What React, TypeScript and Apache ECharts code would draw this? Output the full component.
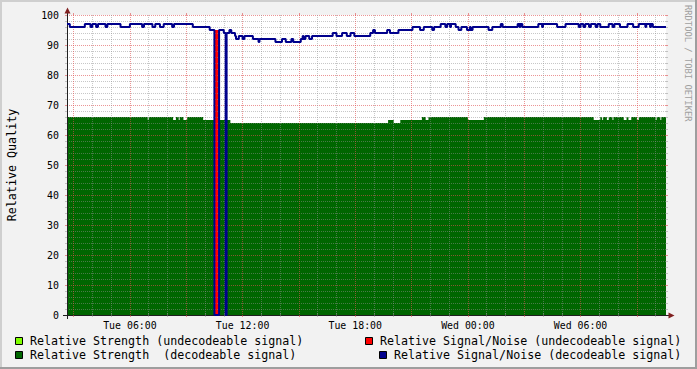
import React, { useEffect, useRef } from "react";
import * as echarts from "echarts";

// Time axis: categories every 3 minutes from Tue 02:39 to Wed 10:33 (minutes since Tue 00:00)
const START_MIN = 159;
const END_MIN = 2073;
const STEP_MIN = 3;
const DAY_NAMES = ["Tue", "Wed"];

// Change points: [hours since Tue 00:00, value] — value holds until the next change point
const snrDecodeable: [number, number][] = [
  [2.65, 97], [2.76, 96], [3.56, 97], [3.87, 96], [3.98, 97], [4.19, 96], [4.3, 97], [4.67, 96], [4.78, 97],
  [5.47, 96], [6.0, 97], [6.64, 96], [6.75, 97], [7.18, 96], [7.34, 97], [7.6, 96], [7.76, 97], [8.24, 96],
  [8.34, 97], [9.31, 96], [10.21, 95], [10.49, 0], [10.75, 95], [10.96, 94], [11.1, 0], [11.15, 94], [11.3, 95],
  [11.4, 94], [11.6, 93], [11.65, 92], [11.76, 93], [11.97, 92], [12.07, 93], [12.55, 92], [12.82, 91], [12.88, 92],
  [13.73, 91], [14.1, 92], [14.26, 91], [14.58, 92], [14.68, 91], [15.06, 92], [15.16, 93], [15.22, 92], [15.32, 93],
  [15.54, 92], [15.7, 93], [16.76, 94], [16.97, 93], [17.29, 94], [17.51, 93], [17.72, 94], [17.93, 93], [18.78, 94],
  [18.94, 95], [19.05, 94], [19.69, 95], [19.85, 94], [20.28, 95], [21.02, 96], [21.45, 95], [21.61, 96], [22.09, 95],
  [22.19, 96], [22.51, 97], [22.78, 96], [22.88, 97], [23.04, 96], [23.1, 97], [23.31, 96], [23.47, 95], [23.63, 96],
  [23.95, 95], [24.06, 96], [24.12, 95], [24.22, 96], [25.07, 95], [25.28, 96], [25.71, 97], [25.81, 96], [26.61, 97],
  [26.72, 96], [26.77, 97], [26.88, 96], [27.73, 97], [27.94, 96], [28.0, 97], [28.74, 96], [29.17, 97], [29.86, 96],
  [29.97, 97], [30.13, 96], [30.23, 97], [30.45, 96], [30.55, 97], [30.77, 96], [30.9, 97], [31.03, 96], [31.46, 97],
  [31.67, 96], [31.78, 97], [32.1, 96], [32.47, 97], [32.79, 96], [33.06, 97], [33.43, 96], [33.48, 97], [33.69, 96],
  [33.74, 97], [33.85, 96],
];

const snrUndecodeable: [number, number][] = [
  [2.65, 0], [10.49, 95], [10.75, 0], [11.1, 94], [11.15, 0],
];

const strengthDecodeable: [number, number][] = [
  [2.65, 66], [6.92, 65], [6.97, 66], [8.29, 65], [8.44, 66], [8.56, 65], [8.62, 66], [8.83, 65], [9.04, 66],
  [9.89, 65], [10.49, 0], [10.75, 65], [11.1, 0], [11.15, 65], [11.33, 64], [19.74, 65], [20.01, 64], [20.38, 65],
  [21.55, 66], [21.71, 65], [21.87, 66], [24.0, 65], [24.85, 66], [30.66, 65], [31.03, 66], [31.14, 65], [31.19, 66],
  [31.4, 65], [31.46, 66], [31.67, 65], [31.72, 66], [32.26, 65], [32.42, 66], [32.52, 65], [32.68, 66], [33.0, 65],
  [33.06, 66], [33.96, 65], [34.01, 66], [34.23, 65], [34.28, 66],
];

const strengthUndecodeable: [number, number][] = [
  [2.65, 0], [10.49, 65], [10.75, 0], [11.1, 65], [11.15, 0],
];

const SERIES_NAMES = [
  "Relative Strength (undecodeable signal)",
  "Relative Strength  (decodeable signal)",
  "Relative Signal/Noise (undecodeable signal)",
  "Relative Signal/Noise (decodeable signal)",
];
const SERIES_COLORS = ["#80FF00", "#006600", "#FF0000", "#00008C"];

const Y_TITLE = "Relative Quality";
const WATERMARK = "RRDTOOL / TOBI OETIKER";

const MONO = '"DejaVu Sans Mono", "Liberation Mono", monospace';
const GRID_COLOR = "rgba(143,143,143,0.5)";
const MGRID_COLOR = "rgba(222,79,79,0.6)";
const AXIS_COLOR = "#1F1F1F";
const ARROW_COLOR = "#802020";

const minutes: number[] = [];
const categories: string[] = [];
for (let m = START_MIN; m <= END_MIN; m += STEP_MIN) {
  minutes.push(m);
  const day = DAY_NAMES[Math.floor(m / 1440)];
  const md = m % 1440;
  const hh = String(Math.floor(md / 60)).padStart(2, "0");
  const mm = String(md % 60).padStart(2, "0");
  categories.push(`${day} ${hh}:${mm}`);
}

function stepValues(points: [number, number][]): number[] {
  return minutes.map((m) => {
    const h = m / 60;
    let v = points[0][1];
    for (const [ph, pv] of points) {
      if (ph <= h + 1e-6) v = pv;
      else break;
    }
    return v;
  });
}

export default function App() {
  const ref = useRef<HTMLDivElement>(null);
  useEffect(() => {
    if (!ref.current) return;
    const chart = echarts.init(ref.current, undefined, { renderer: "svg" });
    const isMajor = (i: number) => minutes[i] % 180 === 0;
    const isMinor = (i: number) => minutes[i] % 60 === 0 && minutes[i] % 180 !== 0;
    const isLabel = (i: number) => minutes[i] % 360 === 0;

    const areaSeries = (idx: number, pts: [number, number][]) => ({
      name: SERIES_NAMES[idx],
      type: "line",
      step: "end",
      data: stepValues(pts),
      showSymbol: false,
      symbol: "none",
      z: 1,
      lineStyle: { width: 0, opacity: 0 },
      areaStyle: { color: SERIES_COLORS[idx], opacity: 1 },
      itemStyle: { color: SERIES_COLORS[idx] },
      emphasis: { disabled: true },
    });

    const legendItems = [
      { sx: 15, y: 341, tx: 30, idx: 0 },
      { sx: 15, y: 355, tx: 30, idx: 1 },
      { sx: 365, y: 341, tx: 380, idx: 2 },
      { sx: 379, y: 355, tx: 394, idx: 3 },
    ];

    const graphic: any[] = [
      { type: "rect", shape: { x: 0, y: 0, width: 697, height: 2 }, style: { fill: "#CFCFCF" }, silent: true },
      { type: "rect", shape: { x: 0, y: 0, width: 2, height: 369 }, style: { fill: "#CFCFCF" }, silent: true },
      { type: "rect", shape: { x: 0, y: 367, width: 697, height: 2 }, style: { fill: "#9E9E9E" }, silent: true },
      { type: "rect", shape: { x: 695, y: 0, width: 2, height: 369 }, style: { fill: "#9E9E9E" }, silent: true },
      // axis extensions and arrows
      { type: "line", shape: { x1: 67.5, y1: 10, x2: 67.5, y2: 15 }, style: { stroke: AXIS_COLOR, lineWidth: 1 }, z: 10 },
      { type: "line", shape: { x1: 67.5, y1: 315, x2: 67.5, y2: 319 }, style: { stroke: AXIS_COLOR, lineWidth: 1 }, z: 10 },
      { type: "line", shape: { x1: 63, y1: 315.5, x2: 67, y2: 315.5 }, style: { stroke: AXIS_COLOR, lineWidth: 1 }, z: 10 },
      { type: "line", shape: { x1: 666, y1: 315.5, x2: 669, y2: 315.5 }, style: { stroke: AXIS_COLOR, lineWidth: 1 }, z: 10 },
      { type: "polygon", shape: { points: [[64.5, 13.5], [70.5, 13.5], [67.5, 7.5]] }, style: { fill: ARROW_COLOR }, z: 10 },
      { type: "polygon", shape: { points: [[668.5, 312.5], [668.5, 318.5], [674.5, 315.5]] }, style: { fill: ARROW_COLOR }, z: 10 },
      {
        type: "text", x: 12, y: 165, rotation: Math.PI / 2,
        style: { text: Y_TITLE, font: `11.7px ${MONO}`, fill: "#000", align: "center", verticalAlign: "middle" },
      },
      {
        type: "text", x: 688, y: 5, rotation: -Math.PI / 2,
        style: { text: WATERMARK, font: `8.8px ${MONO}`, fill: "#A0A0A0", align: "left", verticalAlign: "middle" },
      },
    ];
    legendItems.forEach((l) => {
      graphic.push({
        type: "rect",
        shape: { x: l.sx + 0.5, y: l.y - 3.5, width: 7, height: 7 },
        style: { fill: SERIES_COLORS[l.idx], stroke: "#000", lineWidth: 1 },
      });
      graphic.push({
        type: "text", x: l.tx, y: l.y,
        style: { text: SERIES_NAMES[l.idx], font: `11.65px ${MONO}`, fill: "#000", align: "left", verticalAlign: "middle" },
      });
    });

    const catAxisBase = {
      type: "category",
      data: categories,
      boundaryGap: false,
      z: 2,
    };

    chart.setOption({
      animation: false,
      backgroundColor: "#F2F2F2",
      grid: { left: 67, top: 15, width: 599, height: 300, containLabel: false, show: true, backgroundColor: "#FFFFFF", borderWidth: 0 },
      xAxis: [
        {
          ...catAxisBase,
          position: "bottom",
          axisLine: { show: true, lineStyle: { color: AXIS_COLOR, width: 1 } },
          axisTick: { show: true, interval: isMajor, length: 2, lineStyle: { color: MGRID_COLOR } },
          axisLabel: { show: true, interval: isLabel, margin: 5, fontFamily: MONO, fontSize: 9.9, color: "#000" },
          splitLine: { show: true, interval: isMajor, lineStyle: { color: MGRID_COLOR, type: [1, 1], width: 1 } },
        },
        {
          ...catAxisBase,
          position: "top",
          axisLine: { show: false },
          axisTick: { show: true, interval: isMinor, length: 2, lineStyle: { color: GRID_COLOR } },
          axisLabel: { show: false },
          splitLine: { show: true, interval: isMinor, lineStyle: { color: GRID_COLOR, type: [1, 1], width: 1 } },
        },
        {
          ...catAxisBase,
          position: "top",
          axisLine: { show: false },
          axisTick: { show: true, interval: isMajor, length: 2, lineStyle: { color: MGRID_COLOR } },
          axisLabel: { show: false },
          splitLine: { show: false },
        },
        {
          ...catAxisBase,
          position: "bottom",
          axisLine: { show: false },
          axisTick: { show: true, interval: isMinor, length: 2, lineStyle: { color: GRID_COLOR } },
          axisLabel: { show: false },
          splitLine: { show: false },
        },
      ],
      yAxis: [
        {
          type: "value", min: 0, max: 100, interval: 10, position: "left", z: 2,
          axisLine: { show: true, lineStyle: { color: AXIS_COLOR, width: 1 } },
          axisTick: { show: true, length: 2, lineStyle: { color: MGRID_COLOR } },
          minorTick: { show: true, splitNumber: 5, length: 2, lineStyle: { color: GRID_COLOR } },
          axisLabel: { margin: 8, fontFamily: MONO, fontSize: 9.9, color: "#000" },
          splitLine: { show: true, lineStyle: { color: MGRID_COLOR, type: [1, 1], width: 1 } },
          minorSplitLine: { show: true, lineStyle: { color: GRID_COLOR, type: [1, 1], width: 1 } },
        },
        {
          type: "value", min: 0, max: 100, interval: 10, position: "right", z: 2,
          axisLine: { show: false },
          axisTick: { show: true, length: 2, lineStyle: { color: MGRID_COLOR } },
          minorTick: { show: true, splitNumber: 5, length: 2, lineStyle: { color: GRID_COLOR } },
          axisLabel: { show: false },
          splitLine: { show: false },
        },
      ],
      series: [
        areaSeries(0, strengthUndecodeable),
        areaSeries(1, strengthDecodeable),
        areaSeries(2, snrUndecodeable),
        {
          name: SERIES_NAMES[3],
          type: "line",
          step: "end",
          data: stepValues(snrDecodeable),
          showSymbol: false,
          symbol: "none",
          z: 3,
          lineStyle: { width: 2, color: SERIES_COLORS[3] },
          itemStyle: { color: SERIES_COLORS[3] },
          emphasis: { disabled: true },
        },
      ],
      graphic,
    });
    return () => chart.dispose();
  }, []);
  return (
    <div
      ref={ref}
      style={{ position: "fixed", left: 0, top: 0, width: 697, height: 369 }}
    />
  );
}
